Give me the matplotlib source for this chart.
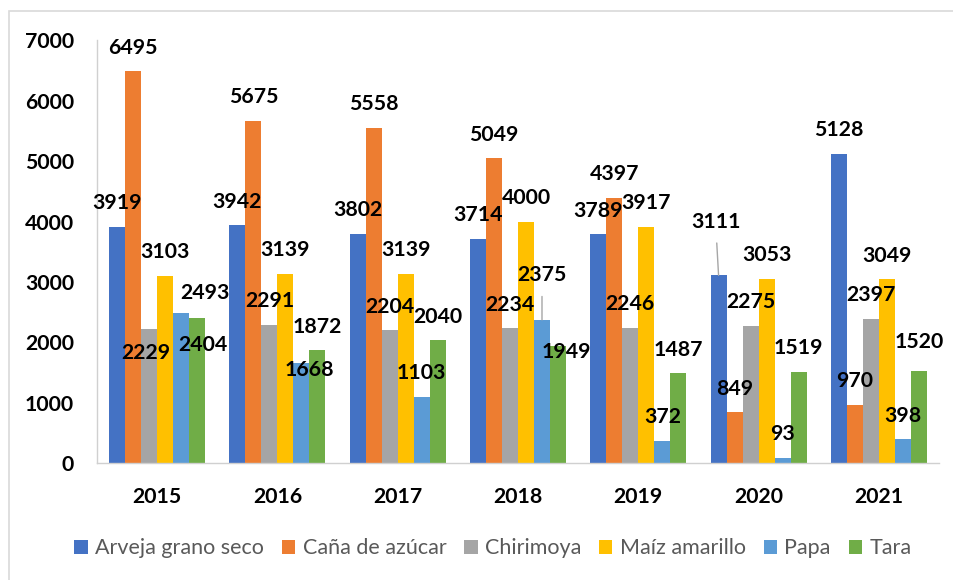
import matplotlib
matplotlib.use("Agg")
import matplotlib.pyplot as plt
from matplotlib.patches import Patch, Rectangle
import numpy as np

plt.rcParams["font.family"] = ["Lato", "DejaVu Sans"]

years = ["2015", "2016", "2017", "2018", "2019", "2020", "2021"]
series = ["Arveja grano seco", "Caña de azúcar", "Chirimoya", "Maíz amarillo", "Papa", "Tara"]
arveja = [3919, 3942, 3802, 3714, 3789, 3111, 5128]
cana = [6495, 5675, 5558, 5049, 4397, 849, 970]
chirimoya = [2229, 2291, 2204, 2234, 2246, 2275, 2397]
maiz = [3103, 3139, 3139, 4000, 3917, 3053, 3049]
papa = [2493, 1668, 1103, 2375, 372, 93, 398]
tara = [2404, 1872, 2040, 1949, 1487, 1519, 1520]
values = [arveja, cana, chirimoya, maiz, papa, tara]
colors = ["#4472C4", "#ED7D31", "#A5A5A5", "#FFC000", "#5B9BD5", "#70AD47"]

# label offsets in pixels (dx right, dy down) from the bar top, default (0, -25)
label_moves = {
    (2, 0): (-3, 23), (4, 0): (24, -21), (5, 0): (6, 25),
    (4, 1): (8, 6), (5, 3): (8, 5), (4, 3): (0, -46),
    (0, 5): (-3, -55), (5, 6): (0, -31),
}
leaders = {(4, 3), (0, 5)}

fig = plt.figure(figsize=(9.54, 5.8), dpi=100)
ax = fig.add_axes([97 / 954, 1 - 463.3 / 580, 842 / 954, 422.8 / 580])

x = np.arange(len(years))
w = 0.133
for j, (name, vals, c) in enumerate(zip(series, values, colors)):
    xs = x + (j - 2.5) * w
    ax.bar(xs, vals, width=w, color=c, zorder=2)
    for i, v in enumerate(vals):
        dx, dy = label_moves.get((j, i), (0, -25))
        kw = {}
        if (j, i) in leaders:
            kw["arrowprops"] = dict(arrowstyle="-", color="#A6A6A6", lw=1,
                                    shrinkA=6, shrinkB=0)
        ax.annotate(str(v), xy=(xs[i], v), xytext=(dx, -dy - 7.5),
                    textcoords="offset pixels", ha="center", va="baseline",
                    fontsize=15.3, fontweight="bold", color="black", zorder=5, **kw)

ax.set_xlim(-0.5, len(years) - 0.5)
ax.set_ylim(0, 7000)
ax.set_yticks(range(0, 7001, 1000))
ax.set_yticklabels([str(t) for t in range(0, 7001, 1000)], fontsize=15.3, fontweight="bold")
ax.set_xticks(x)
ax.set_xticklabels(years, fontsize=15.3, fontweight="bold")
ax.tick_params(axis="y", length=0, pad=16.5)
ax.tick_params(axis="x", length=0, pad=17)
for s in ["top", "right"]:
    ax.spines[s].set_visible(False)
ax.spines["left"].set_color("#D0D0D0")
ax.spines["bottom"].set_color("#D0D0D0")
ax.spines["left"].set_linewidth(1)
ax.spines["bottom"].set_linewidth(1)

handles = [Patch(facecolor=c, label=n) for n, c in zip(series, colors)]
leg = fig.legend(handles=handles, loc="center", bbox_to_anchor=(493 / 954, 1 - 548.5 / 580),
                 ncol=6, frameon=False, fontsize=15.5, handlelength=0.62, handleheight=0.68,
                 handletextpad=0.35, columnspacing=0.82, borderaxespad=0)
for t in leg.get_texts():
    t.set_color("#595959")

fig.patches.append(Rectangle((9 / 954, -0.1), 1.0, 1.1 - 11 / 580, transform=fig.transFigure,
                             fill=False, edgecolor="#D9D9D9", lw=1.2))

fig.savefig("out.png", dpi=100)
